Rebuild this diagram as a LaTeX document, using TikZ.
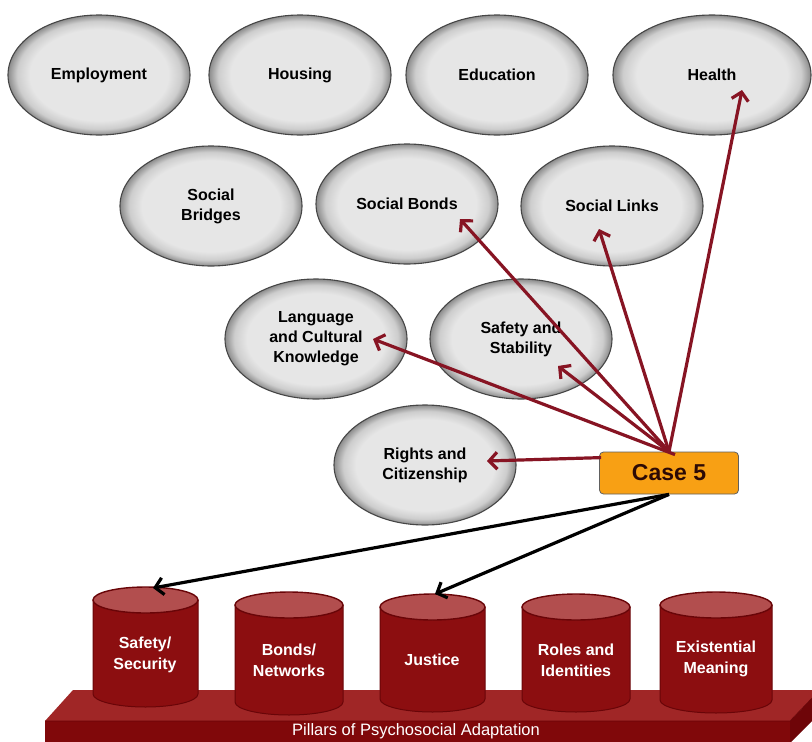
\documentclass[tikz,border=0pt]{standalone}
\usepackage{fontspec}
\setmainfont{Liberation Sans}
\usetikzlibrary{arrows.meta,calc,shapes.geometric}
\definecolor{ellin}{RGB}{230,230,230}
\definecolor{ellmid}{RGB}{205,205,205}
\definecolor{ellout}{RGB}{140,140,140}
\definecolor{ellrim}{RGB}{70,70,70}
\definecolor{arrred}{RGB}{135,20,35}
\definecolor{casefill}{RGB}{248,160,20}
\definecolor{casetext}{RGB}{45,10,5}
\definecolor{cylbody}{RGB}{140,14,16}
\definecolor{cyledge}{RGB}{105,5,8}
\definecolor{cyltop}{RGB}{178,78,78}
\definecolor{plattop}{RGB}{160,38,38}
\definecolor{platfront}{RGB}{128,8,10}
\definecolor{platside}{RGB}{110,5,8}
\pgfdeclareradialshading{ellshade}{\pgfpoint{0bp}{0bp}}{color(0bp)=(ellin); color(19bp)=(ellin); color(22.5bp)=(ellmid); color(25bp)=(ellout); color(50bp)=(ellout)}
\tikzset{
  bubble/.style={ellipse, shade, shading=ellshade, draw=ellrim, line width=1.1pt,
    minimum width=182pt, minimum height=120pt, inner sep=0pt, align=center,
    font=\fontsize{16}{20}\selectfont\bfseries, text=black},
  redarr/.style={draw=arrred, line width=3.2pt, -{Straight Barb[length=8pt,width=17pt]}},
  blkarr/.style={draw=black, line width=3.2pt, -{Straight Barb[length=8pt,width=17pt]}},
  cyllabel/.style={align=center, text=white, font=\fontsize{16}{21}\selectfont\bfseries},
}
\newcommand{\mycyl}[5]{% cx, top y, bottom y, rx, ry
  \fill[cylbody] (#1-#4,#2) -- (#1-#4,#3) arc[start angle=180,end angle=360,x radius=#4,y radius=-#5] -- (#1+#4,#2) -- cycle;
  \draw[cyledge, line width=1pt] (#1-#4,#2) -- (#1-#4,#3) arc[start angle=180,end angle=360,x radius=#4,y radius=-#5] -- (#1+#4,#2);
  \draw[cyledge, line width=1.4pt, fill=cyltop] (#1,#2) ellipse[x radius=#4, y radius=#5];
}
\begin{document}
\begin{tikzpicture}[x=1pt,y=-1pt]
\useasboundingbox (0,0) rectangle (812,742);
\fill[white] (0,0) rectangle (812,742);

% ellipses
\node[bubble] (employment) at (99,75) {Employment};
\node[bubble] (housing) at (300,75) {Housing};
\node[bubble] (education) at (497,75) {Education};
\node[bubble, minimum width=198pt] (health) at (712,75) {Health};
\node[bubble] (bridges) at (211,206) {Social\\Bridges};
\node[bubble] (bonds) at (407,204) {Social Bonds};
\node[bubble] (links) at (612,206) {Social Links};
\node[bubble] (language) at (316,339) {Language\\and Cultural\\Knowledge};
\node[bubble] (safety) at (521,339) {Safety and\\Stability};
\node[bubble] (rights) at (425,465) {Rights and\\Citizenship};

% case box
\node[rounded corners=4pt, fill=casefill, draw=gray!75!black, line width=0.8pt,
  minimum width=139pt, minimum height=42pt, inner sep=0pt,
  font=\fontsize{23}{23}\selectfont\bfseries, text=casetext] (case) at (669,473) {Case 5};

% arrow end points
\coordinate (tHealth) at (742,90);
\coordinate (tBonds) at (460,219);
\coordinate (tLinks) at (599,229);
\coordinate (tSafety) at (558,366);
\coordinate (tLang) at (373,339);
\coordinate (tRights) at (487,461);
\coordinate (tSec) at (153,588);
\coordinate (tJust) at (435,594);

\draw[redarr] (case.north) -- (tHealth);
\draw[redarr] (case.north) -- (tBonds);
\draw[redarr] (case.north) -- (tLinks);
\draw[redarr] (case.north) -- (tSafety);
\draw[redarr] ($(case.north)+(6,3)$) -- (tLang);
\draw[redarr] ($(case.north west)+(2,6)$) -- (tRights);

% platform
\fill[plattop] (73,690) -- (812,690) -- (812,698) -- (790,721) -- (45,721) -- cycle;
\fill[platfront] (45,721) -- (790,721) -- (790,742) -- (45,742) -- cycle;
\fill[platside] (790,721) -- (812,698) -- (812,721) -- (791,742) -- (790,742) -- cycle;
\draw[cyledge, line width=0.6pt] (45,721) -- (790,721) -- (812,698);
\node[text=white, font=\fontsize{16.5}{18}\selectfont] (pillars) at (416,731) {Pillars of Psychosocial Adaptation};

% cylinders
\mycyl{145.5}{600}{694}{52.5}{13}
\mycyl{289}{605}{702}{54}{13}
\mycyl{432.5}{607}{699}{52.5}{13}
\mycyl{576}{607}{699}{54}{13}
\mycyl{716}{605}{700}{56}{13}

\node[cyllabel] (c1) at (145,655) {Safety/\\Security};
\node[cyllabel] (c2) at (289,660) {Bonds/\\Networks};
\node[cyllabel] (c3) at (432,660) {Justice};
\node[cyllabel] (c4) at (576,660) {Roles and\\Identities};
\node[cyllabel] (c5) at (716,659) {Existential\\Meaning};

\draw[blkarr] (case.south) -- (tSec);
\draw[blkarr] (case.south) -- (tJust);
\end{tikzpicture}
\end{document}
